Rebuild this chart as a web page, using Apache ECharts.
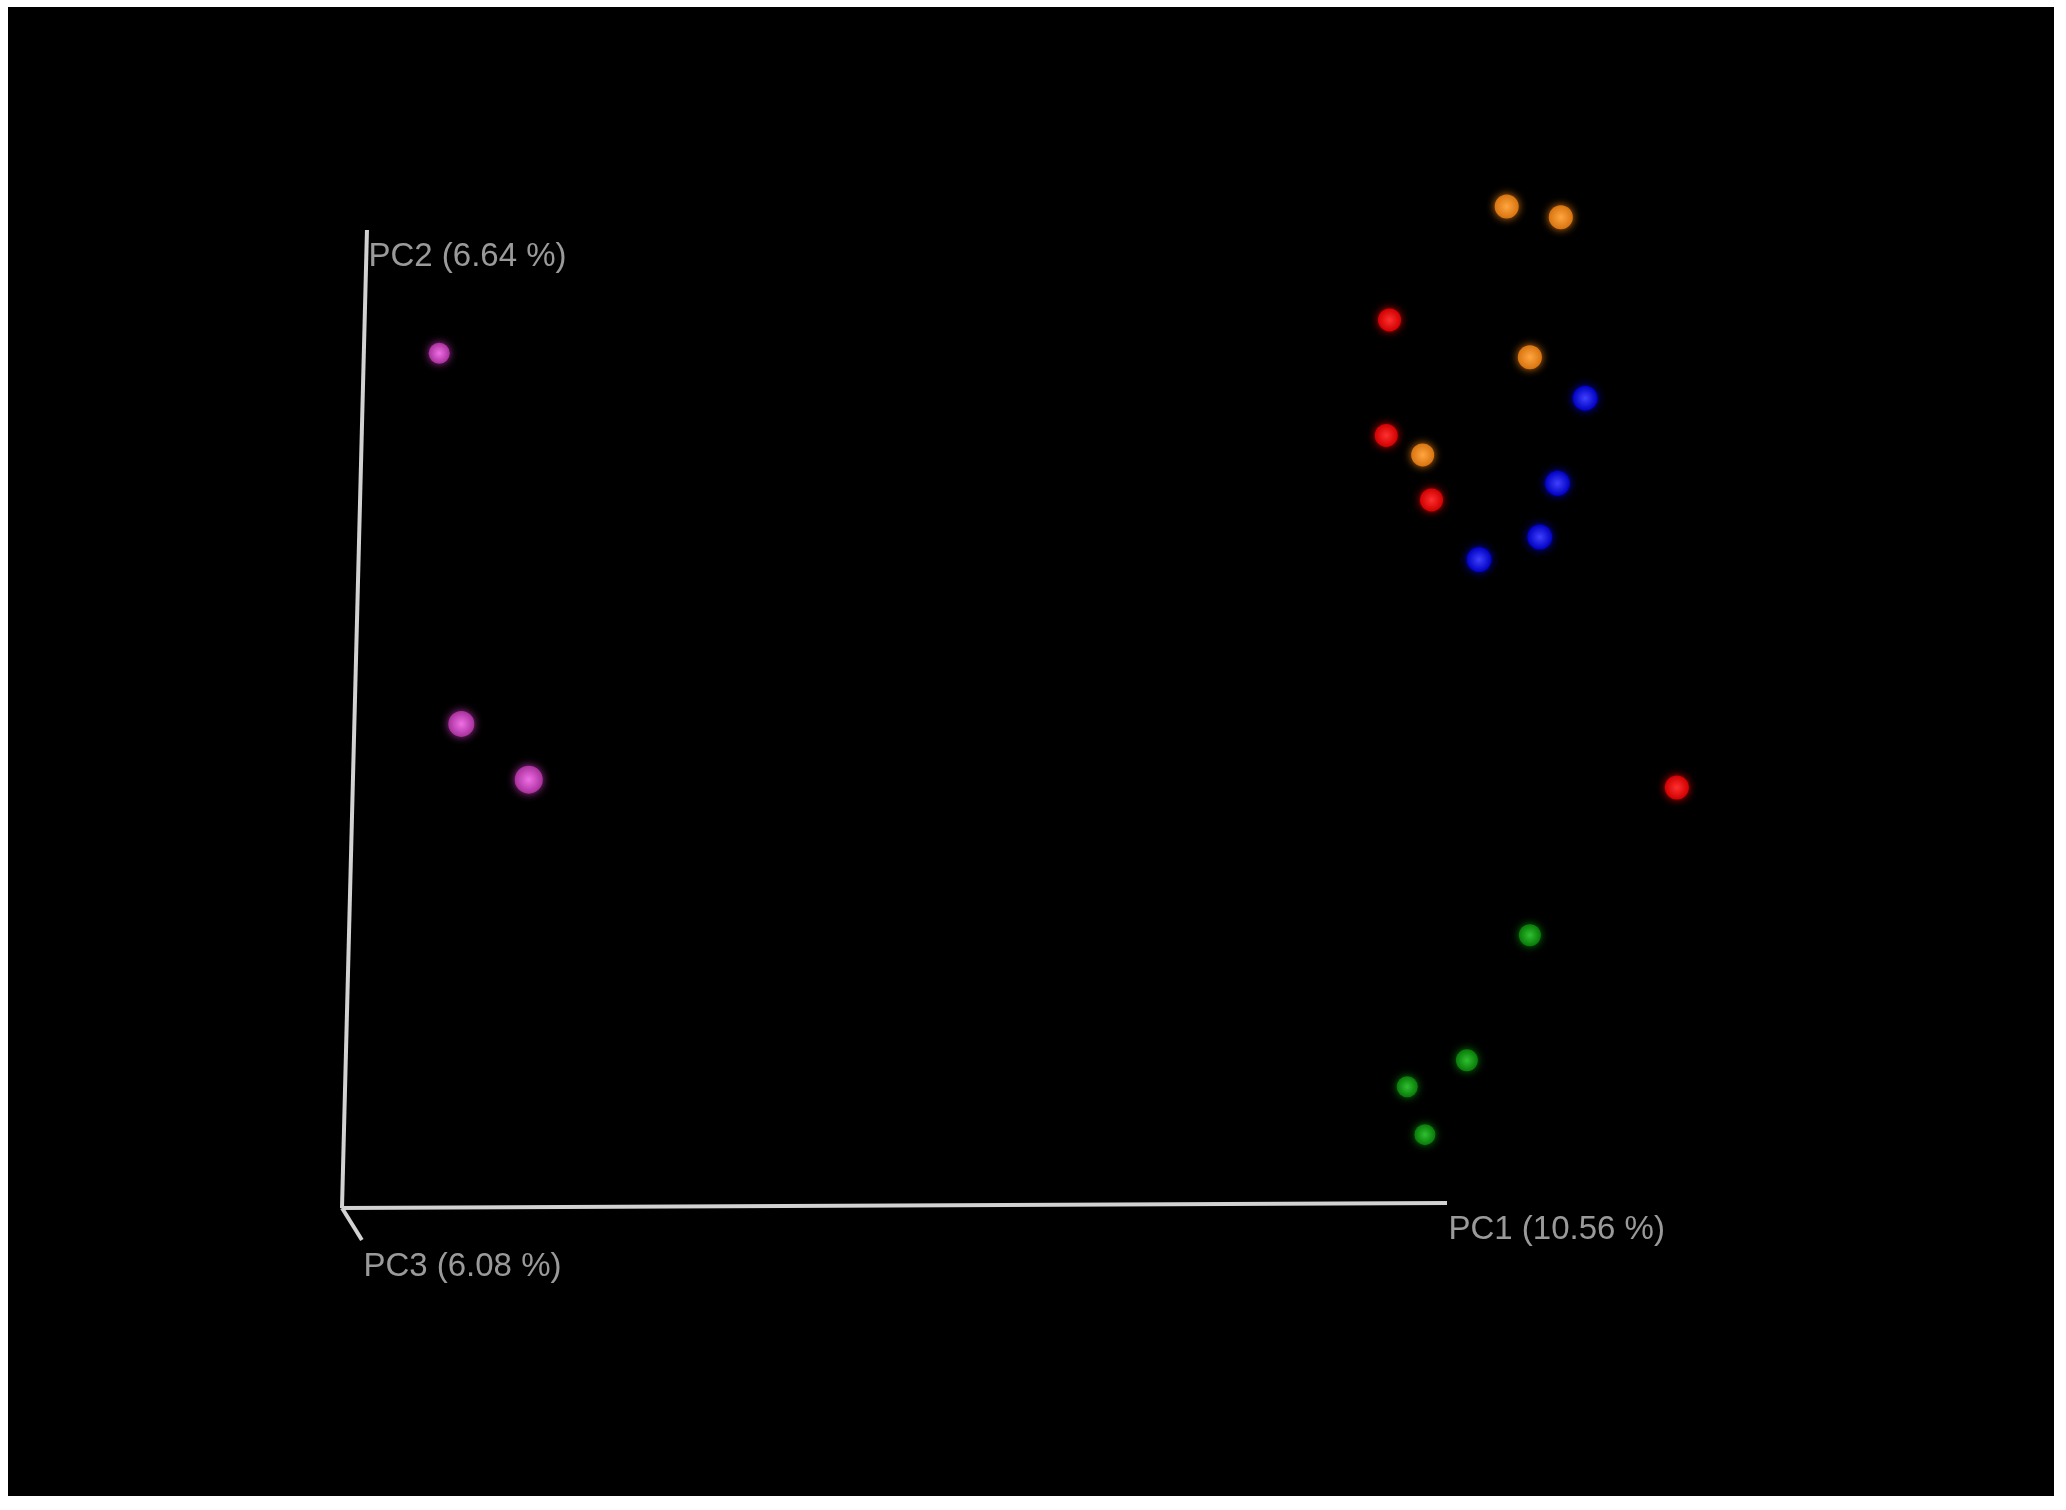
<!DOCTYPE html>
<html>
	<head>
		<meta http-equiv="Content-Type" content="text/html; charset=utf-8" />
		<title>PCoA</title>
		<style>
			html, body {
				margin: 0;
				padding: 0;
				background: #fff;
			}
			#main01 {
				position: absolute;
				left: 8px;
				top: 7px;
				width: 2046px;
				height: 1489px;
			}
		</style>
	</head>
	<body>
		<div id="main01"></div>
		<script src="https://cdn.jsdelivr.net/npm/echarts@6/dist/echarts.min.js"></script>
		<script>
			// projected screen coordinates: [x, y, depth]
			var groupOrange = [[1.054, 1.024, 0.2], [1.103, 1.013, 0.2], [1.075, 0.870, 0.2], [0.978, 0.770, 0.0]];
			var groupRed = [[0.948, 0.908, 0.0], [0.945, 0.790, 0.0], [0.986, 0.724, 0.0], [1.208, 0.430, 0.2]];
			var groupBlue = [[1.125, 0.828, 0.4], [1.100, 0.741, 0.4], [1.084, 0.686, 0.4], [1.029, 0.663, 0.4]];
			var groupGreen = [[1.075, 0.279, -0.2], [1.018, 0.151, -0.2], [0.964, 0.124, -0.4], [0.980, 0.075, -0.4]];
			var groupMagenta = [[0.088, 0.874, -0.4], [0.108, 0.495, 0.6], [0.169, 0.438, 1.0]];
			// axis ends in the same projection
			var axisNames = ['PC1 (10.56 %)', 'PC2 (6.64 %)', 'PC3 (6.08 %)'];
			var axisOrigin = [0, 0];
			var axisEnds = [[1, 0.005], [0.0226, 1], [0.018, -0.0327]];

			var myChart1;
			var option1;

			function ball(name, data, inner, outer) {
				return {
					name: name,
					type: 'scatter',
					data: data,
					symbolSize: function(v) {
						return 23 + 5 * v[2];
					},
					itemStyle: {
						opacity: 1,
						color: {
							type: 'radial',
							x: 0.5,
							y: 0.5,
							r: 0.5,
							colorStops: [{
								offset: 0,
								color: inner
							}, {
								offset: 1,
								color: outer
							}]
						},
						shadowBlur: 8,
						shadowColor: outer
					},
					z: 3
				};
			}

			function PCoA() {
				myChart1 = echarts.init(document.getElementById('main01'));
				var axisLines = axisEnds.map(function(e) {
					return {
						coords: [axisOrigin, e]
					};
				});
				var axisLabels = axisEnds.map(function(e, i) {
					return {
						name: axisNames[i],
						value: e
					};
				});
				option1 = {
					backgroundColor: '#000',
					animation: false,
					grid: {
						left: 2.5,
						right: 54.5,
						top: 27.4,
						bottom: 43.5
					},
					xAxis: {
						type: 'value',
						min: -0.3,
						max: 1.5,
						show: false
					},
					yAxis: {
						type: 'value',
						min: -0.25,
						max: 1.2,
						show: false
					},
					series: [{
							type: 'lines',
							coordinateSystem: 'cartesian2d',
							data: axisLines,
							lineStyle: {
								color: '#d2d2d2',
								width: 4,
								opacity: 1
							},
							z: 1
						},
						{
							type: 'scatter',
							data: axisLabels,
							symbolSize: 1,
							itemStyle: {
								color: 'rgba(0,0,0,0)'
							},
							label: {
								show: true,
								formatter: '{b}',
								position: [2, 11],
								align: 'left',
								verticalAlign: 'top',
								color: '#c0c0c0',
								fontFamily: 'Liberation Sans',
								fontSize: 33
							},
							z: 2
						},
						ball('magenta', groupMagenta, '#f070e6', '#a8309c'),
						ball('red', groupRed, '#ff3030', '#d00000'),
						ball('orange', groupOrange, '#ffa640', '#d87410'),
						ball('blue', groupBlue, '#4040ff', '#0000c0'),
						ball('green', groupGreen, '#30c030', '#087a08')
					]
				};
				myChart1.setOption(option1);
			}

			PCoA();
		</script>
	</body>
</html>
